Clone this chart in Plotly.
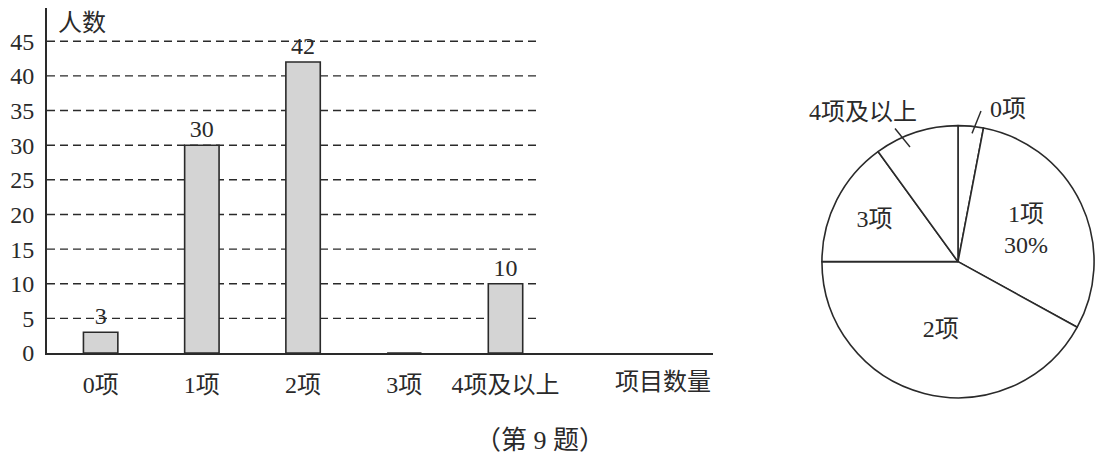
import plotly.graph_objects as go

W, H = 1105, 463
OFF_X = 8  # the page shifts the figure right by about this much

categories = ["0项", "1项", "2项", "3项", "4项及以上"]
counts = [3, 30, 42, 0, 10]
count_labels = ["3", "30", "42", "", "10"]
y_ticks = [0, 5, 10, 15, 20, 25, 30, 35, 40, 45]

pie_labels = ["0项", "1项", "2项", "3项", "4项及以上"]
pie_shares = [3, 30, 42, 15, 10]
pie_text = ["", "1项<br>30%", "2项", "3项", ""]

FONT = "Liberation Serif, Noto Sans CJK SC, serif"
INK = "#2a2a2a"


def px(x):
    return min(max((x - OFF_X) / W, 0), 1)


def py(y):
    return min(max(1 - y / H, 0), 1)


fig = go.Figure()

fig.add_trace(go.Bar(
    x=categories, y=counts, width=0.34,
    text=count_labels, textposition="outside", cliponaxis=False,
    textfont=dict(family=FONT, size=24, color=INK),
    marker=dict(color="#d4d4d4", line=dict(color=INK, width=1.6)),
    showlegend=False,
))

fig.add_trace(go.Pie(
    labels=pie_labels, values=pie_shares, text=pie_text,
    textinfo="text", textposition="inside", insidetextorientation="horizontal",
    sort=False, direction="clockwise", rotation=0,
    marker=dict(colors=["white"] * 5, line=dict(color=INK, width=1.6)),
    textfont=dict(family=FONT, size=24, color=INK),
    domain=dict(x=[px(818), px(1098)], y=[py(401), py(121)]),
    showlegend=False, hoverinfo="label+percent",
))

# dashed guide lines, stop short of the axis end like the original
for v in y_ticks[1:]:
    fig.add_shape(type="line", xref="x domain", yref="y",
                  x0=0, x1=(540 - 47) / (713 - 47), y0=v, y1=v,
                  line=dict(color=INK, width=1.4, dash="8px,5px"), layer="below")

# leader lines for the small pie slices
fig.add_shape(type="line", xref="paper", yref="paper",
              x0=px(972), y0=py(129), x1=px(981), y1=py(106),
              line=dict(color=INK, width=1.4))
fig.add_shape(type="line", xref="paper", yref="paper",
              x0=px(895), y0=py(124), x1=px(910), y1=py(143),
              line=dict(color=INK, width=1.4))

ann = dict(showarrow=False, xref="paper", yref="paper",
           xanchor="center", yanchor="middle",
           font=dict(family=FONT, size=24, color=INK))
fig.add_annotation(text="人数", x=px(82), y=1, xanchor="center", yanchor="top",
                   showarrow=False, xref="paper", yref="paper",
                   font=dict(family=FONT, size=24, color=INK))
fig.add_annotation(text="0项", x=px(1008), y=py(104), **ann)
fig.add_annotation(text="4项及以上", x=px(863), y=py(107), **ann)
fig.add_annotation(text="项目数量", showarrow=False, xref="paper", yref="paper",
                   x=px(713), y=py(385), xanchor="right", yanchor="middle",
                   font=dict(family=FONT, size=24, color=INK))
fig.add_annotation(text="（第 9 题）", showarrow=False, xref="paper", yref="paper",
                   x=px(540), y=py(445), xanchor="center", yanchor="middle",
                   font=dict(family=FONT, size=26, color=INK))

fig.update_xaxes(domain=[px(47), px(713)], range=[-0.53, 6.05],
                 showline=True, linecolor=INK, linewidth=2, showgrid=False,
                 ticks="", ticklabelstandoff=9,
                 tickfont=dict(family=FONT, size=24, color=INK))
fig.update_yaxes(domain=[py(355), 1], range=[0, 49.8],
                 tickvals=y_ticks, showline=True, linecolor=INK, linewidth=2,
                 showgrid=False, zeroline=False, ticks="", ticklabelstandoff=6,
                 tickfont=dict(family=FONT, size=24, color=INK))

fig.update_layout(width=W, height=H, margin=dict(l=0, r=0, t=0, b=0),
                  plot_bgcolor="white", paper_bgcolor="white",
                  uniformtext=dict(minsize=20, mode="show"))

fig.write_html("out.html")
